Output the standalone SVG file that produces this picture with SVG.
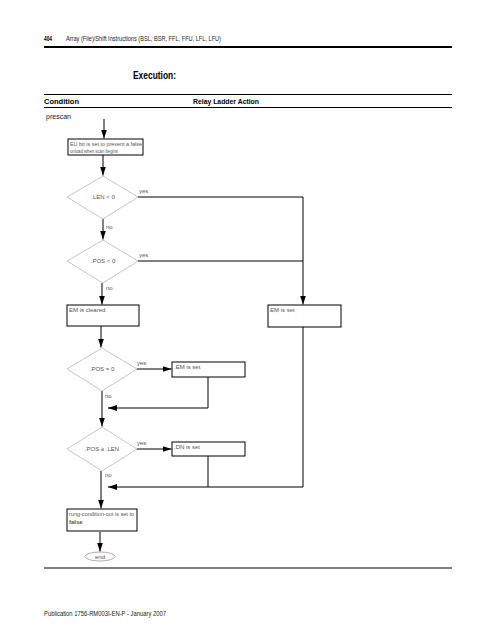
<svg xmlns="http://www.w3.org/2000/svg" width="495" height="640" viewBox="0 0 495 640">
<style>
.t{font-family:"Liberation Sans",Arial,sans-serif;fill:#222}
.b{font-weight:bold;fill:#000}
.s{font-size:6px;fill:#555}
.d{fill:none;stroke:#b8b8b8;stroke-width:0.8}
.bx{fill:#fff;stroke:#000;stroke-width:1}
.c{fill:none;stroke:#000;stroke-width:1}
</style>
<defs>
<marker id="ah" markerUnits="userSpaceOnUse" markerWidth="9" markerHeight="6" refX="9" refY="3" orient="auto"><path d="M0,0 L9,3 L0,6 z" fill="#000"/></marker>
</defs>
<rect width="495" height="640" fill="#fff"/>
<g id="header">
<text class="t b" x="44" y="41" font-size="7.5" textLength="8" lengthAdjust="spacingAndGlyphs">404</text>
<text class="t" x="66" y="41" font-size="7" textLength="155" lengthAdjust="spacingAndGlyphs">Array (File)/Shift Instructions (BSL, BSR, FFL, FFU, LFL, LFU)</text>
<line x1="44" y1="47" x2="452" y2="47" stroke="#000" stroke-width="2"/>
<text class="t b" x="133" y="79" font-size="11" textLength="43" lengthAdjust="spacingAndGlyphs">Execution:</text>
<line x1="44" y1="94.5" x2="452" y2="94.5" stroke="#000" stroke-width="1"/>
<text class="t b" x="44" y="104" font-size="8" textLength="35" lengthAdjust="spacingAndGlyphs">Condition</text>
<text class="t b" x="193" y="104" font-size="8" textLength="66" lengthAdjust="spacingAndGlyphs">Relay Ladder Action</text>
<line x1="44" y1="107.5" x2="452" y2="107.5" stroke="#000" stroke-width="1"/>
<text class="t" x="46" y="119" font-size="7.5" textLength="25" lengthAdjust="spacingAndGlyphs">prescan</text>
<line x1="44" y1="568" x2="452" y2="568" stroke="#000" stroke-width="1"/>
<text class="t" x="44" y="616" font-size="7" textLength="122" lengthAdjust="spacingAndGlyphs">Publication 1756-RM003I-EN-P - January 2007</text>
</g>
<g id="connectors">
<line class="c" x1="104" y1="119" x2="104" y2="138.5" marker-end="url(#ah)"/>
<line class="c" x1="103" y1="155" x2="103" y2="175.5" marker-end="url(#ah)"/>
<polyline class="c" points="138,197 303,197 303,304.5" marker-end="url(#ah)"/>
<line class="c" x1="103" y1="219" x2="103" y2="239.5" marker-end="url(#ah)"/>
<line class="c" x1="138" y1="261" x2="303" y2="261"/>
<line class="c" x1="102" y1="283" x2="102" y2="304.5" marker-end="url(#ah)"/>
<line class="c" x1="101" y1="326" x2="101" y2="347.5" marker-end="url(#ah)"/>
<line class="c" x1="137" y1="369" x2="171.5" y2="369" marker-end="url(#ah)"/>
<polyline class="c" points="208,377 208,408 108,408" marker-end="url(#ah)"/>
<line class="c" x1="102" y1="391" x2="102" y2="426.5" marker-end="url(#ah)"/>
<line class="c" x1="137" y1="449" x2="171.5" y2="449" marker-end="url(#ah)"/>
<polyline class="c" points="303,327 303,487 108,487" marker-end="url(#ah)"/>
<line class="c" x1="208" y1="456" x2="208" y2="487"/>
<line class="c" x1="101" y1="471" x2="101" y2="508.5" marker-end="url(#ah)"/>
<line class="c" x1="100" y1="532" x2="100" y2="551.5" marker-end="url(#ah)"/>
</g>
<g id="n-eu">
<rect class="bx" x="68" y="139" width="75" height="16"/>
<text class="t s" x="70" y="146" textLength="72" lengthAdjust="spacingAndGlyphs">EU bit is set to prevent a false</text>
<text class="t s" x="70" y="152.5" textLength="48" lengthAdjust="spacingAndGlyphs">unload when scan begins</text>
</g>
<g id="n-len0">
<polygon class="d" points="103,176 138,197 103,219 67,197"/>
<text class="t s" x="103" y="199" text-anchor="middle">.LEN &lt; 0</text>
<text class="t s" x="139" y="193">yes</text>
<text class="t s" x="106" y="229">no</text>
</g>
<g id="n-pos0">
<polygon class="d" points="103,240 138,261 103,283 67,261"/>
<text class="t s" x="103" y="263" text-anchor="middle">.POS &lt; 0</text>
<text class="t s" x="139" y="257">yes</text>
<text class="t s" x="106" y="290">no</text>
</g>
<g id="n-emcleared">
<rect class="bx" x="67" y="305" width="72" height="21"/>
<text class="t s" x="69" y="312">EM is cleared</text>
</g>
<g id="n-emset1">
<rect class="bx" x="268" y="305" width="73" height="22"/>
<text class="t s" x="270" y="312">EM is set</text>
</g>
<g id="n-poseq">
<polygon class="d" points="102,348 137,369 102,391 67,369"/>
<text class="t s" x="102" y="371" text-anchor="middle">.POS = 0</text>
<text class="t s" x="137" y="365">yes</text>
<text class="t s" x="105" y="398">no</text>
</g>
<g id="n-emset2">
<rect class="bx" x="172" y="362" width="73" height="15"/>
<text class="t s" x="174" y="369">.EM is set</text>
</g>
<g id="n-posge">
<polygon class="d" points="102,427 137,449 102,471 67,449"/>
<text class="t s" x="102" y="451" text-anchor="middle">.POS ≥ .LEN</text>
<text class="t s" x="137" y="445">yes</text>
<text class="t s" x="105" y="477">no</text>
</g>
<g id="n-dnset">
<rect class="bx" x="172" y="442" width="73" height="14"/>
<text class="t s" x="174" y="449">.DN is set</text>
</g>
<g id="n-rung">
<rect class="bx" x="67" y="509" width="70" height="22"/>
<text class="t s" x="69" y="516" textLength="65" lengthAdjust="spacingAndGlyphs">rung-condition-out is set to</text>
<text class="t s b" x="69" y="523.5">false</text>
</g>
<g id="n-end">
<ellipse cx="100" cy="556.5" rx="15" ry="4.5" fill="#fff" stroke="#999" stroke-width="0.8"/>
<text class="t s" x="100" y="558.5" text-anchor="middle">end</text>
</g>
</svg>
